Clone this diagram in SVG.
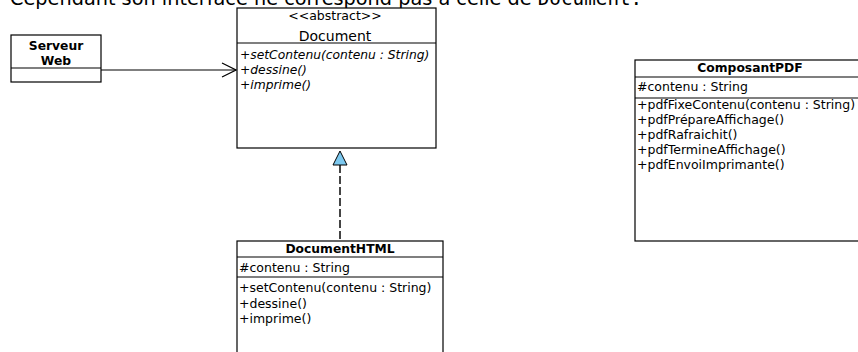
<svg xmlns="http://www.w3.org/2000/svg" width="858" height="352" viewBox="0 0 858 352">
<style>
text{font-family:"DejaVu Sans","Noto Sans",sans-serif;font-size:12.5px;fill:#000}
.b{font-weight:bold;font-size:12.3px}
.i{font-style:italic;font-size:12.3px}
.c{text-anchor:middle}
.box{fill:#fff;stroke:#000;stroke-width:1.2}
.sep{stroke:#000;stroke-width:1.2}
.mono{font-family:"DejaVu Sans Mono","Liberation Mono",monospace}
</style>
<defs>
<marker id="open" markerWidth="16" markerHeight="16" refX="15" refY="8" orient="auto" markerUnits="userSpaceOnUse">
<path d="M1,1 L15,8 L1,15" fill="none" stroke="#000" stroke-width="1.2"/>
</marker>
</defs>
<text x="10" y="5" style="font-size:19.3px">Cependant son interface ne correspond pas à celle de <tspan class="mono">Document.</tspan></text>
<g id="serveur-web">
<rect class="box" x="11" y="35" width="90" height="47"/>
<line class="sep" x1="11" y1="68" x2="101" y2="68"/>
<text class="b c" x="56" y="50">Serveur</text>
<text class="b c" x="56" y="65">Web</text>
</g>
<g id="document">
<rect class="box" x="237" y="8" width="199" height="140"/>
<line class="sep" x1="237" y1="43" x2="436" y2="43"/>
<text class="c" x="335" y="20">&lt;&lt;abstract&gt;&gt;</text>
<text class="c" x="335" y="41" style="font-size:14px">Document</text>
<text class="i" x="240" y="59">+setContenu(contenu : String)</text>
<text class="i" x="240" y="74">+dessine()</text>
<text class="i" x="240" y="89">+imprime()</text>
</g>
<g id="documenthtml">
<rect class="box" x="237" y="241" width="206" height="130"/>
<line class="sep" x1="237" y1="257" x2="443" y2="257"/>
<line class="sep" x1="237" y1="277" x2="443" y2="277"/>
<text class="b c" x="340" y="253">DocumentHTML</text>
<text x="239" y="272">#contenu : String</text>
<text x="239" y="292">+setContenu(contenu : String)</text>
<text x="239" y="307.5">+dessine()</text>
<text x="239" y="323">+imprime()</text>
</g>
<g id="composantpdf">
<rect class="box" x="635" y="60" width="230" height="181"/>
<line class="sep" x1="635" y1="77" x2="865" y2="77"/>
<line class="sep" x1="635" y1="98" x2="865" y2="98"/>
<text class="b c" x="750" y="72">ComposantPDF</text>
<text x="637" y="91">#contenu : String</text>
<text x="637" y="109">+pdfFixeContenu(contenu : String)</text>
<text x="637" y="124">+pdfPrépareAffichage()</text>
<text x="637" y="139">+pdfRafraichit()</text>
<text x="637" y="154">+pdfTermineAffichage()</text>
<text x="637" y="169">+pdfEnvoiImprimante()</text>
</g>
<g id="connectors">
<line x1="101" y1="70" x2="236" y2="70" stroke="#000" stroke-width="1.2" marker-end="url(#open)"/>
<line x1="340" y1="165" x2="340" y2="240" stroke="#444" stroke-width="2" stroke-dasharray="8,3"/>
<polygon points="340,151 333,165 347,165" fill="#7cc8ef" stroke="#000" stroke-width="1"/>
</g>
</svg>
